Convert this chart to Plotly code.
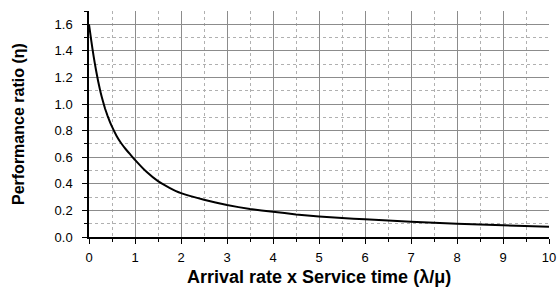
import plotly.graph_objects as go

x_vals = [0, 0.05, 0.1, 0.15, 0.2, 0.25, 0.3, 0.35, 0.4, 0.45, 0.5, 0.6, 0.7, 0.8, 0.9,
          1.0, 1.25, 1.5, 1.75, 2.0, 2.5, 3.0, 3.5, 4.0, 4.5, 5.0, 5.5, 6.0, 7.0, 8.0, 9.0, 10.0]
eta_vals = [1.60, 1.475, 1.36, 1.26, 1.17, 1.09, 1.025, 0.965, 0.915, 0.87, 0.83, 0.76, 0.705,
            0.66, 0.62, 0.58, 0.49, 0.42, 0.37, 0.33, 0.28, 0.24, 0.21, 0.19, 0.17, 0.155,
            0.143, 0.133, 0.115, 0.10, 0.088, 0.077]

x_title = "<b>Arrival rate x Service time (λ/μ)</b>"
y_title = "<b>Performance ratio (η)</b>"

fig = go.Figure()
fig.add_trace(go.Scatter(x=x_vals, y=eta_vals, mode="lines",
                         line=dict(color="black", width=2, shape="spline", smoothing=0.3),
                         showlegend=False))

font = "Liberation Sans, Arial, sans-serif"
fig.update_layout(
    width=558, height=287,
    margin=dict(l=89, r=9, t=11, b=50),
    paper_bgcolor="white", plot_bgcolor="white",
    font=dict(family=font, size=12, color="black"),
    xaxis=dict(range=[0, 10], dtick=1, tick0=0, showline=True, linecolor="black", linewidth=1.5,
               ticks="outside", ticklen=5, tickwidth=1, tickcolor="black",
               showgrid=True, gridcolor="#8c8c8c", gridwidth=1, zeroline=False,
               tickfont=dict(size=13), automargin=False, ticklabelstandoff=3,
               ticklabeloverflow="allow",
               minor=dict(dtick=0.5, ticks="outside", ticklen=3, tickcolor="black",
                          showgrid=True, gridcolor="#b0b0b0", griddash="dot", gridwidth=1)),
    yaxis=dict(range=[0, 1.7], dtick=0.2, tick0=0, tickformat=".1f", showline=True,
               linecolor="black", linewidth=1.5,
               ticks="outside", ticklen=5, tickwidth=1, tickcolor="black",
               showgrid=True, gridcolor="#8c8c8c", gridwidth=1, zeroline=False,
               tickfont=dict(size=13), automargin=False, ticklabelstandoff=7,
               ticklabeloverflow="allow",
               minor=dict(dtick=0.1, ticks="outside", ticklen=3, tickcolor="black",
                          showgrid=True, gridcolor="#b0b0b0", griddash="dot", gridwidth=1)),
    annotations=[
        dict(text=x_title, xref="paper", yref="paper", x=0.5, y=0, xanchor="center",
             yanchor="middle", yshift=-40, showarrow=False, font=dict(size=18)),
        dict(text=y_title, xref="paper", yref="paper", x=0, y=0.5, xanchor="center",
             yanchor="middle", xshift=-71, textangle=-90, showarrow=False,
             font=dict(size=16)),
    ],
)

fig.write_html("out.html", config={"displayModeBar": False},
               post_script="document.body.style.margin='0';document.body.style.overflow='hidden';")
